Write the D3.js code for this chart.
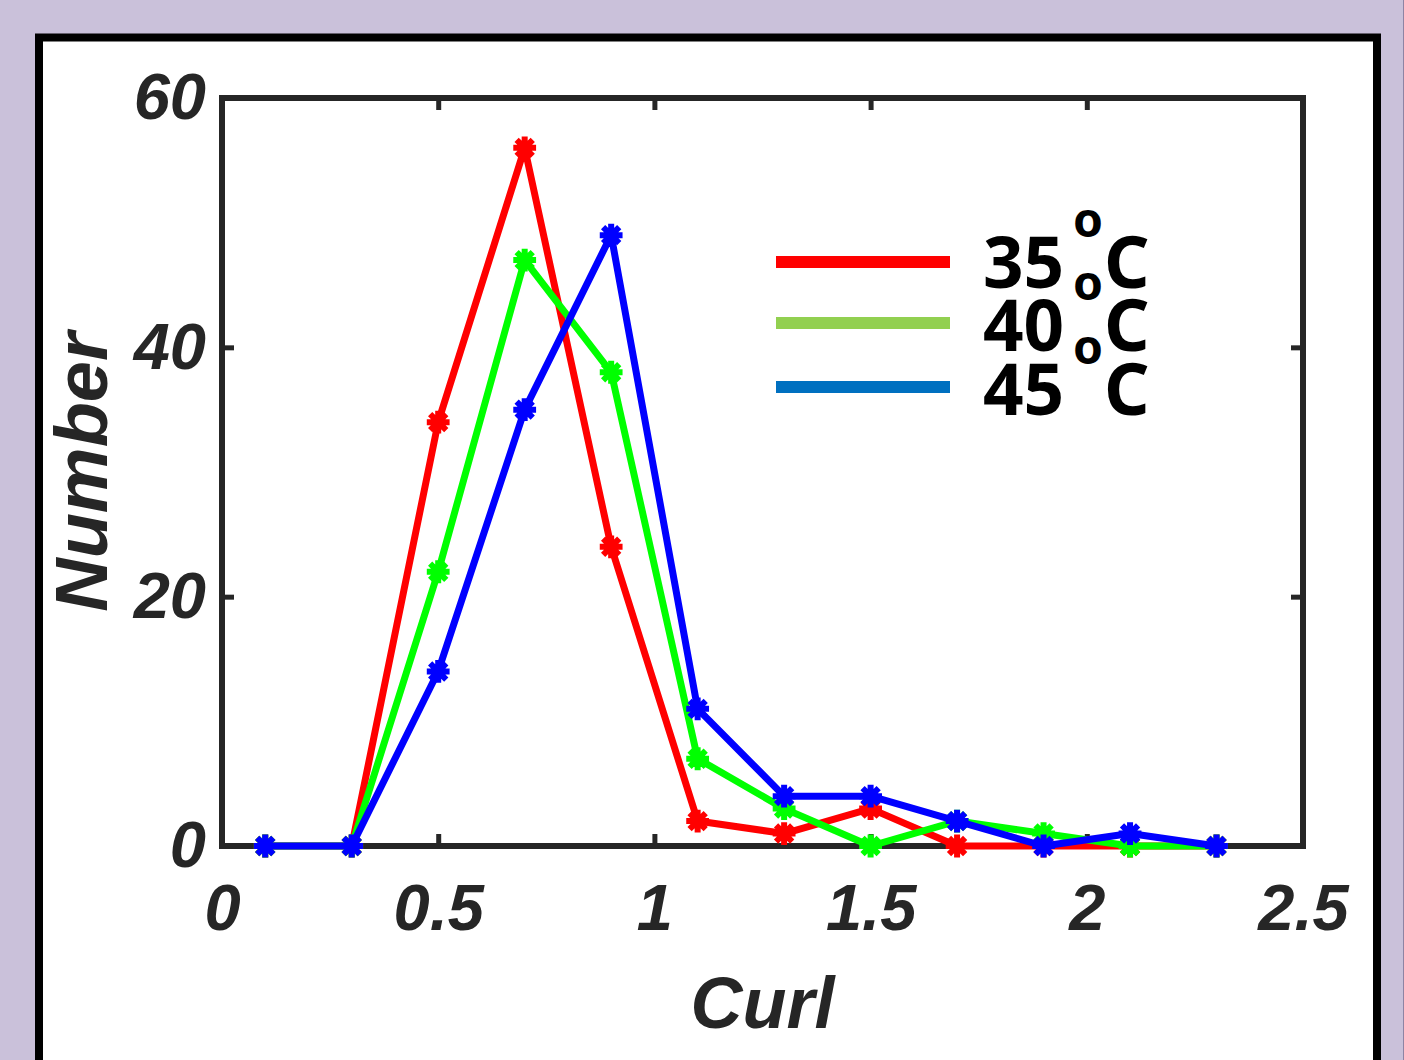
<!DOCTYPE html>
<html>
<head>
<meta charset="utf-8">
<script src="https://cdn.jsdelivr.net/npm/d3@7"></script>
<style>
  html, body { margin: 0; padding: 0; background: #cac1da; }
  svg { display: block; }
</style>
</head>
<body>
<svg id="chart" width="1404" height="1060"></svg>
<script>
// curl bins (bin centres) and counts per temperature
var curl = [0.1, 0.3, 0.5, 0.7, 0.9, 1.1, 1.3, 1.5, 1.7, 1.9, 2.1, 2.3];
var n35 = [0, 0, 34, 56, 24, 2, 1, 3, 0, 0, 0, 0];
var n40 = [0, 0, 22, 47, 38, 7, 3, 0, 2, 1, 0, 0];
var n45 = [0, 0, 14, 35, 49, 11, 4, 4, 2, 0, 1, 0];

var xTicks = [0, 0.5, 1, 1.5, 2, 2.5];
var yTicks = [0, 20, 40, 60];

var seriesNames = ["35", "40", "45"];
var lineColors = ["#ff0000", "#00ff00", "#0000ff"];
var legendColors = ["#ff0000", "#92d050", "#0070c0"];

var svg = d3.select("#chart");

// outer white panel
svg.append("rect")
    .attr("x", 39).attr("y", 37.5)
    .attr("width", 1338).attr("height", 1100)
    .attr("fill", "#fff")
    .attr("stroke", "#000")
    .attr("stroke-width", 8);
svg.append("line")
    .attr("x1", 1403.5).attr("x2", 1403.5).attr("y1", 0).attr("y2", 1060)
    .attr("stroke", "#8e84a4").attr("stroke-width", 1);

var x = d3.scaleLinear().domain([0, 2.5]).range([222, 1303]);
var y = d3.scaleLinear().domain([0, 60]).range([846, 98]);

var axisColor = "#262626";
var tickFont = "'Liberation Sans', Arial, sans-serif";

// box + inward ticks on all four sides
function styleAxis(g) {
  g.select(".domain").remove();
  g.selectAll(".tick line").attr("stroke", axisColor).attr("stroke-width", 5);
  g.selectAll(".tick text")
      .attr("fill", axisColor)
      .style("font-family", tickFont)
      .style("font-size", "65px")
      .style("font-weight", "bold")
      .style("font-style", "italic");
}

svg.append("g")
    .attr("transform", "translate(0," + y(0) + ")")
    .call(d3.axisBottom(x).tickValues(xTicks).tickFormat(d3.format("")).tickSizeInner(-12).tickPadding(38))
    .call(styleAxis);
svg.append("g")
    .attr("transform", "translate(0," + y(60) + ")")
    .call(d3.axisTop(x).tickValues(xTicks).tickSizeInner(-12).tickFormat(""))
    .call(styleAxis);
svg.append("g")
    .attr("transform", "translate(" + x(0) + ",0)")
    .call(d3.axisLeft(y).tickValues(yTicks).tickSizeInner(-12).tickPadding(16))
    .call(styleAxis);
svg.append("g")
    .attr("transform", "translate(" + x(2.5) + ",0)")
    .call(d3.axisRight(y).tickValues(yTicks).tickSizeInner(-12).tickFormat(""))
    .call(styleAxis);

svg.append("rect")
    .attr("x", x(0)).attr("y", y(60))
    .attr("width", x(2.5) - x(0)).attr("height", y(0) - y(60))
    .attr("fill", "none")
    .attr("stroke", axisColor)
    .attr("stroke-width", 6);

// axis labels
svg.append("text")
    .attr("x", (x(0) + x(2.5)) / 2).attr("y", 1028)
    .attr("text-anchor", "middle")
    .attr("fill", axisColor)
    .style("font-family", tickFont).style("font-size", "72px")
    .style("font-weight", "bold").style("font-style", "italic")
    .text("Curl");
svg.append("text")
    .attr("transform", "translate(107," + (y(0) + y(60)) / 2 + ") rotate(-90)")
    .attr("text-anchor", "middle")
    .attr("fill", axisColor)
    .style("font-family", tickFont).style("font-size", "74px")
    .style("font-weight", "bold").style("font-style", "italic")
    .text("Number");

// matlab-like '*' marker: four crossing strokes
var star = {
  draw: function(context, size) {
    var r = Math.sqrt(size) / 2, d = r * Math.SQRT1_2;
    context.moveTo(-r, 0); context.lineTo(r, 0);
    context.moveTo(0, -r); context.lineTo(0, r);
    context.moveTo(-d, -d); context.lineTo(d, d);
    context.moveTo(-d, d); context.lineTo(d, -d);
  }
};

var line = d3.line()
    .x(function(d) { return x(d[0]); })
    .y(function(d) { return y(d[1]); });

[n35, n40, n45].forEach(function(vals, i) {
  var pts = curl.map(function(c, k) { return [c, vals[k]]; });
  var g = svg.append("g");
  g.append("path")
      .attr("d", line(pts))
      .attr("fill", "none")
      .attr("stroke", lineColors[i])
      .attr("stroke-width", 7)
      .attr("stroke-linejoin", "round");
  g.selectAll(".mk")
    .data(pts)
    .enter().append("path")
      .attr("transform", function(d) { return "translate(" + x(d[0]) + "," + y(d[1]) + ")"; })
      .attr("d", d3.symbol().type(star).size(520))
      .attr("fill", "none")
      .attr("stroke", lineColors[i])
      .attr("stroke-width", 6);
  g.selectAll(".dot")
    .data(pts)
    .enter().append("circle")
      .attr("cx", function(d) { return x(d[0]); })
      .attr("cy", function(d) { return y(d[1]); })
      .attr("r", 5)
      .attr("fill", lineColors[i]);
});

// legend
var legendFont = "'Noto Sans', 'Open Sans', sans-serif";
var legendY = [262, 323, 387];
var textBase = [288, 351, 415];
var lg = svg.append("g");
seriesNames.forEach(function(name, i) {
  lg.append("line")
      .attr("x1", 776).attr("x2", 950)
      .attr("y1", legendY[i]).attr("y2", legendY[i])
      .attr("stroke", legendColors[i])
      .attr("stroke-width", 12);
  lg.append("text")
      .attr("x", 983).attr("y", textBase[i])
      .attr("fill", "#000")
      .style("font-family", legendFont).style("font-size", "71px").style("font-weight", "bold")
      .text(name);
  lg.append("text")
      .attr("x", 1073).attr("y", textBase[i] - 51)
      .attr("fill", "#000")
      .style("font-family", legendFont).style("font-size", "48px").style("font-weight", "bold")
      .text("o");
  lg.append("text")
      .attr("x", 1104).attr("y", textBase[i])
      .attr("fill", "#000")
      .style("font-family", legendFont).style("font-size", "71px").style("font-weight", "bold")
      .text("C");
});
</script>
</body>
</html>
